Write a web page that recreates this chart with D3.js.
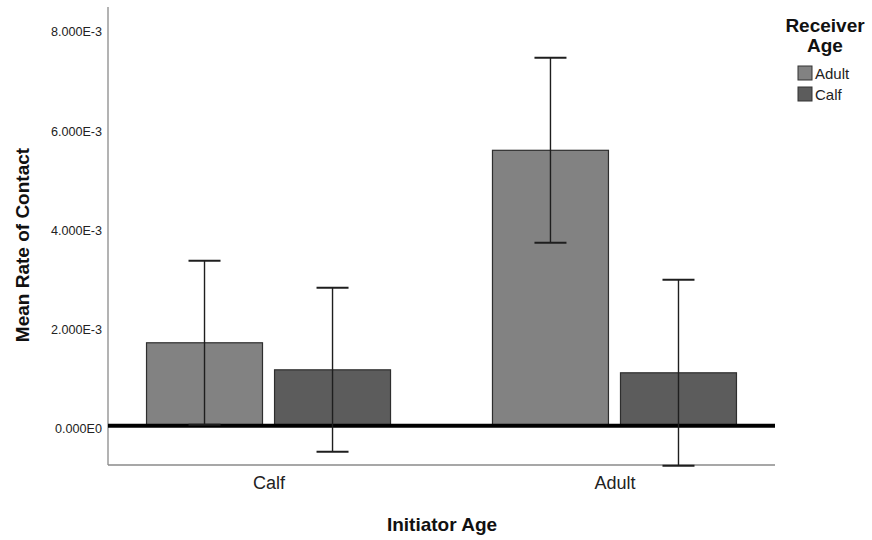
<!DOCTYPE html>
<html>
<head>
<meta charset="utf-8">
<script src="https://cdn.jsdelivr.net/npm/d3@7"></script>
<style>
  html, body { margin: 0; padding: 0; background: #fff; }
  svg { display: block; font-family: "Liberation Sans", Arial, sans-serif; }
</style>
</head>
<body>
<svg id="chart" width="872" height="540"></svg>
<script>
// Initiator age groups along the x axis
const initiatorAges = ["Calf", "Adult"];
// Receiver age series (legend order)
const receiverAges = ["Adult", "Calf"];
// Mean contact rate per initiator group, one array per receiver series
const meanAdultReceiver = [1.673e-3, 5.552e-3];
const meanCalfReceiver  = [1.128e-3, 1.068e-3];
// Error bar half-widths (±) per initiator group
const errAdultReceiver = [1.652e-3, 1.864e-3];
const errCalfReceiver  = [1.653e-3, 1.874e-3];
// Y axis tick values
const yTicks = [0, 2e-3, 4e-3, 6e-3, 8e-3];
const yTickLabels = ["0.000E0", "2.000E-3", "4.000E-3", "6.000E-3", "8.000E-3"];

const fills = { Adult: "#828282", Calf: "#5c5c5c" };

const rows = [];
initiatorAges.forEach((ia, i) => {
  rows.push({ initiator: ia, receiver: "Adult", mean: meanAdultReceiver[i], err: errAdultReceiver[i] });
  rows.push({ initiator: ia, receiver: "Calf", mean: meanCalfReceiver[i], err: errCalfReceiver[i] });
});

const svg = d3.select("#chart");
const plotLeft = 108, plotRight = 775, plotTop = 7, plotBottom = 465;

const y = d3.scaleLinear().domain([-0.79e-3, 8.44e-3]).range([plotBottom, plotTop]);
const x = d3.scalePoint().domain(initiatorAges).range([plotLeft, plotRight]).padding(0.464);
const xs = d3.scaleBand().domain(receiverAges).range([-122, 122]).paddingInner(0.094);

// Axis lines
svg.append("line").attr("x1", plotLeft).attr("x2", plotLeft).attr("y1", plotTop).attr("y2", plotBottom)
  .attr("stroke", "#8a8a8a").attr("stroke-width", 1.3);
svg.append("line").attr("x1", plotLeft).attr("x2", plotRight).attr("y1", plotBottom).attr("y2", plotBottom)
  .attr("stroke", "#8a8a8a").attr("stroke-width", 1.3);

// Y tick labels
const yAxis = d3.axisLeft(y).tickValues(yTicks)
  .tickFormat((d, i) => yTickLabels[i]).tickSize(0).tickPadding(6);
const gy = svg.append("g").attr("transform", `translate(${plotLeft},0)`).call(yAxis);
gy.select(".domain").remove();
gy.selectAll("text").attr("font-size", 12.6).attr("fill", "#222")
  .attr("font-family", "Liberation Sans, Arial, sans-serif").attr("dy", "0.55em");

// X tick labels
const xAxis = d3.axisBottom(x).tickSize(0).tickPadding(11);
const gx = svg.append("g").attr("transform", `translate(0,${plotBottom})`).call(xAxis);
gx.select(".domain").remove();
gx.selectAll("text").attr("font-size", 18).attr("fill", "#222")
  .attr("font-family", "Liberation Sans, Arial, sans-serif");

// Bars
svg.append("g").selectAll("rect").data(rows).join("rect")
  .attr("x", d => x(d.initiator) + xs(d.receiver))
  .attr("width", xs.bandwidth())
  .attr("y", d => y(Math.max(0, d.mean)))
  .attr("height", d => Math.abs(y(d.mean) - y(0)))
  .attr("fill", d => fills[d.receiver])
  .attr("stroke", "#2e2e2e").attr("stroke-width", 1.2);

// Zero reference line
svg.append("line").attr("x1", plotLeft).attr("x2", plotRight).attr("y1", y(0)).attr("y2", y(0))
  .attr("stroke", "#000").attr("stroke-width", 4);

// Error bars
const eb = svg.append("g").selectAll("g").data(rows).join("g")
  .attr("transform", d => `translate(${x(d.initiator) + xs(d.receiver) + xs.bandwidth() / 2},0)`);
eb.append("line").attr("y1", d => y(d.mean + d.err)).attr("y2", d => y(d.mean - d.err))
  .attr("stroke", "#1e1e1e").attr("stroke-width", 1.4);
eb.append("line").attr("x1", -16).attr("x2", 16)
  .attr("y1", d => y(d.mean + d.err)).attr("y2", d => y(d.mean + d.err))
  .attr("stroke", "#1e1e1e").attr("stroke-width", 2);
eb.append("line").attr("x1", -16).attr("x2", 16)
  .attr("y1", d => y(d.mean - d.err)).attr("y2", d => y(d.mean - d.err))
  .attr("stroke", "#1e1e1e").attr("stroke-width", 2);

// Axis titles
svg.append("text").attr("x", 442).attr("y", 531).attr("text-anchor", "middle")
  .attr("font-size", 19).attr("font-weight", "bold").attr("fill", "#111").text("Initiator Age");
svg.append("text").attr("transform", "translate(29,245) rotate(-90)").attr("text-anchor", "middle")
  .attr("font-size", 19).attr("font-weight", "bold").attr("fill", "#111").text("Mean Rate of Contact");

// Legend
const lg = svg.append("g");
lg.append("text").attr("x", 825).attr("y", 32).attr("text-anchor", "middle")
  .attr("font-size", 19).attr("font-weight", "bold").attr("fill", "#111").text("Receiver");
lg.append("text").attr("x", 825).attr("y", 52).attr("text-anchor", "middle")
  .attr("font-size", 19).attr("font-weight", "bold").attr("fill", "#111").text("Age");
const items = lg.selectAll("g.item").data(receiverAges).join("g").attr("class", "item")
  .attr("transform", (d, i) => `translate(798,${66 + i * 21})`);
items.append("rect").attr("width", 14).attr("height", 14)
  .attr("fill", d => fills[d]).attr("stroke", "#333").attr("stroke-width", 1);
items.append("text").attr("x", 17).attr("y", 12.5).attr("font-size", 15).attr("fill", "#222").text(d => d);
</script>
</body>
</html>
